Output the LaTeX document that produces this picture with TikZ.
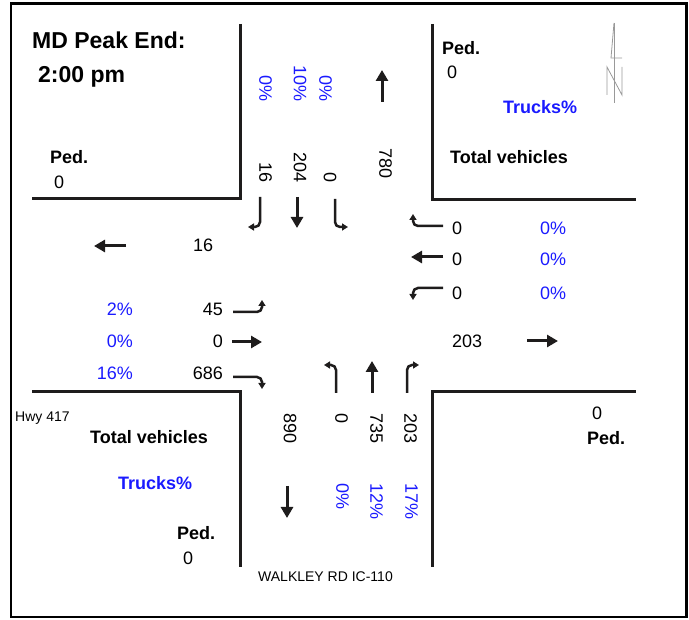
\documentclass[tikz,border=0pt]{standalone}
\usepackage{fontspec}
\setmainfont{Liberation Sans}
\usetikzlibrary{arrows.meta}
\definecolor{tblue}{RGB}{26,26,255}
\definecolor{ink}{RGB}{30,28,28}
\begin{document}
\begin{tikzpicture}[x=1pt,y=-1pt,
  txt/.style={inner sep=0pt, font=\fontsize{18}{18}\selectfont},
  pct/.style={txt, text=tblue},
  bld/.style={inner sep=0pt, font=\bfseries\fontsize{18}{18}\selectfont},
  bblue/.style={bld, text=tblue},
  smalltxt/.style={inner sep=0pt, font=\fontsize{14}{14}\selectfont},
  titletxt/.style={inner sep=0pt, font=\bfseries\fontsize{23}{23}\selectfont},
  rot/.style={rotate=-90},
  road/.style={line width=3pt, ink},
  framebox/.style={line width=2.5pt, black},
  bigarrow/.style={line width=3pt, ink, -{Triangle[width=12pt,length=11pt]}},
  turnarrow/.style={line width=2.5pt, ink, rounded corners=5pt, -{Triangle[width=7pt,length=6pt]}},
  northline/.style={line width=0.8pt, gray!80}
]
\useasboundingbox (0,0) rectangle (689,620);
% frame
\draw[framebox] (11,3.5) rectangle (686.5,617);
% road edges
\draw[road] (240,24) -- (240,199) -- (32,199);
\draw[road] (432,24) -- (432,200) -- (636,200);
\draw[road] (32,392) -- (240,392) -- (240,567);
\draw[road] (432,567) -- (432,392) -- (636,392);
% north arrow
\draw[northline] (614,23) -- (614,103);
\draw[northline] (614,23) -- (611,58) -- (622,58);
\draw[northline] (607,95) -- (607,67) -- (622,95) -- (622,67);
% titles
\node[titletxt, anchor=west] (title) at (32,40) {MD Peak End:};
\node[titletxt, anchor=base west] (time) at (38,83) {2:00 pm};
% corner labels
\node[bld, anchor=west] (pedTL) at (50,157) {Ped.};
\node[txt, anchor=west] (pedTLv) at (54,182) {0};
\node[bld, anchor=west] (pedTR) at (442,48) {Ped.};
\node[txt, anchor=west] (pedTRv) at (447,72) {0};
\node[bblue, anchor=west] (trkTR) at (503,107) {Trucks\%};
\node[bld, anchor=west] (totTR) at (450,157) {Total vehicles};
\node[smalltxt, anchor=base west] (hwy) at (15,422) {Hwy 417};
\node[bld, anchor=west] (totBL) at (90,437) {Total vehicles};
\node[bblue, anchor=west] (trkBL) at (118,483) {Trucks\%};
\node[bld, anchor=west] (pedBL) at (177,533) {Ped.};
\node[txt, anchor=west] (pedBLv) at (183,558) {0};
\node[txt, anchor=west] (pedBRv) at (592,413) {0};
\node[bld, anchor=west] (pedBR) at (587,438) {Ped.};
\node[smalltxt, anchor=west] (street) at (258,577) {WALKLEY RD IC-110};
% southbound (top approach)
\node[pct, rot, anchor=east] (sbp1) at (265.5,102) {0\%};
\node[pct, rot, anchor=east] (sbp2) at (300,102) {10\%};
\node[pct, rot, anchor=east] (sbp3) at (325.5,102) {0\%};
\node[txt, rot, anchor=east] (sbv1) at (265.5,183) {16};
\node[txt, rot, anchor=east] (sbv2) at (300,183) {204};
\node[txt, rot, anchor=east] (sbv3) at (330,183) {0};
\node[txt, rot, anchor=east] (nbout) at (385.5,179) {780};
\draw[bigarrow] (382,102) -- (382,70);
\draw[turnarrow] (260,197) -- (260,227) -- (248,227);
\draw[bigarrow] (297,197) -- (297,228);
\draw[turnarrow] (335,199) -- (335,227) -- (348,227);
% westbound (right approach)
\draw[turnarrow] (443,226) -- (413,226) -- (413,214);
\draw[bigarrow] (443,257) -- (411,257);
\draw[turnarrow] (443,288) -- (413,288) -- (413,300);
\node[txt, anchor=west] (wbv1) at (452,228) {0};
\node[txt, anchor=west] (wbv2) at (452,259) {0};
\node[txt, anchor=west] (wbv3) at (452,293) {0};
\node[pct, anchor=west] (wbp1) at (540,228) {0\%};
\node[pct, anchor=west] (wbp2) at (540,259) {0\%};
\node[pct, anchor=west] (wbp3) at (540,293) {0\%};
% westbound exit
\draw[bigarrow] (126,246) -- (94,246);
\node[txt, anchor=west] (wbout) at (193,245) {16};
% eastbound (left approach)
\node[pct, anchor=east] (ebp1) at (133,309) {2\%};
\node[pct, anchor=east] (ebp2) at (133,341) {0\%};
\node[pct, anchor=east] (ebp3) at (133,373) {16\%};
\node[txt, anchor=east] (ebv1) at (223,309) {45};
\node[txt, anchor=east] (ebv2) at (223,341) {0};
\node[txt, anchor=east] (ebv3) at (223,373) {686};
\draw[turnarrow] (233,312) -- (262,312) -- (262,300);
\draw[bigarrow] (232,342) -- (262,342);
\draw[turnarrow] (233,377) -- (262,377) -- (262,389);
% eastbound exit
\node[txt, anchor=west] (ebout) at (452,341) {203};
\draw[bigarrow] (527,341) -- (558,341);
% northbound (bottom approach)
\draw[turnarrow] (336,393) -- (336,365) -- (324,365);
\draw[bigarrow] (372,393) -- (372,361);
\draw[turnarrow] (407,393) -- (407,365) -- (419,365);
\node[txt, rot, anchor=west] (sbout) at (290,413) {890};
\node[txt, rot, anchor=west] (nbv1) at (341.5,413) {0};
\node[txt, rot, anchor=west] (nbv2) at (376.5,413) {735};
\node[txt, rot, anchor=west] (nbv3) at (410.5,413) {203};
\node[pct, rot, anchor=west] (nbp1) at (342.5,483) {0\%};
\node[pct, rot, anchor=west] (nbp2) at (376.5,483) {12\%};
\node[pct, rot, anchor=west] (nbp3) at (411.5,483) {17\%};
\draw[bigarrow] (287,486) -- (287,518);
\end{tikzpicture}
\end{document}
